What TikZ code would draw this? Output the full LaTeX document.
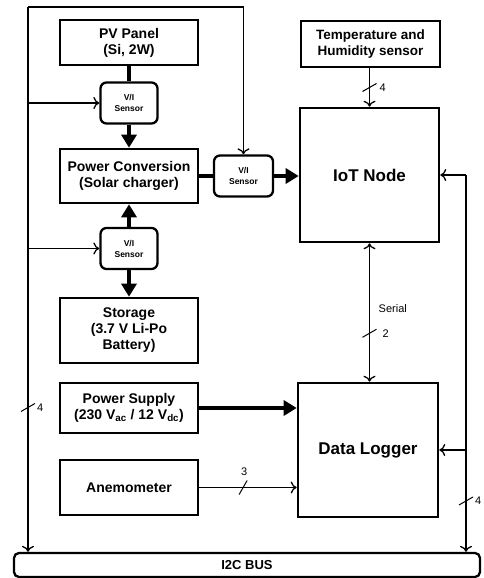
\documentclass[tikz,border=0pt]{standalone}
\usepackage{fontspec}
\setsansfont{Liberation Sans}
\usetikzlibrary{arrows.meta,positioning,calc}

% short slash across a bus line
\newcommand{\vbusmark}[1]{\draw[line width=1pt] (#1) ++(-7,4) -- ++(14,-8);}
\newcommand{\hbusmark}[1]{\draw[line width=1pt] (#1) ++(-4,7) -- ++(8,-14);}

\begin{document}
\begin{tikzpicture}[x=1pt,y=-1pt,
  block/.style={draw,line width=2.6pt,minimum width=138pt,inner sep=1pt,align=center,
    font=\sffamily\bfseries\fontsize{14}{16}\selectfont},
  sensor/.style={draw,line width=2.3pt,rounded corners=6pt,minimum width=57pt,minimum height=41pt,
    inner sep=1pt,align=center,font=\sffamily\bfseries\fontsize{8.5}{11}\selectfont},
  big node/.style={draw,line width=2.6pt,minimum width=139pt,minimum height=134pt,
    font=\sffamily\bfseries\fontsize{17}{19}\selectfont},
  power/.style={line width=4pt,-{Triangle[width=15pt,length=13pt]}},
  signal/.style={line width=1.3pt,-{To[length=6pt,width=12pt]}},
  bus label/.style={font=\sffamily\fontsize{11}{13}\selectfont,inner sep=1pt}]

  \useasboundingbox (0,0) rectangle (483,578);

  % left column
  \node[block,minimum height=45pt] (pv) at (129,42.5) {PV Panel\\(Si, 2W)};
  \node[sensor] (vi1) at (129,103) {V/I\\Sensor};
  \node[block,minimum height=54pt] (conv) at (129,176) {Power Conversion\\(Solar charger)};
  \node[sensor] (vi3) at (129,248.5) {V/I\\Sensor};
  \node[block,minimum height=65pt] (store) at (129,330.5) {Storage\\(3.7 V Li-Po\\Battery)};
  \node[block,minimum height=50pt] (supply) at (129,408) {Power Supply\\(230 V\textsubscript{ac} / 12 V\textsubscript{dc})};
  \node[block,minimum height=55pt] (anemo) at (129,487.5) {Anemometer};

  % right column
  \node[sensor,minimum width=59pt] (vi2) at (243.5,176) {V/I\\Sensor};
  \node[big node] (iot) at (369.5,175) {IoT Node};
  \node[block,minimum width=139pt,minimum height=46pt,font=\sffamily\bfseries\fontsize{13.5}{16}\selectfont]
    (temp) at (370.5,44) {Temperature and\\Humidity sensor};
  \node[big node,minimum width=140pt] (logger) at (368,450) {Data Logger};

  \node[draw,line width=2.3pt,rounded corners=5pt,minimum width=466pt,minimum height=24pt,
    font=\sffamily\bfseries\fontsize{13}{15}\selectfont] (i2c) at (247,565) {I2C BUS};

  \coordinate (tl) at (28,7);
  \coordinate (rc) at (466,175);

  % power paths
  \draw[line width=4pt] (pv) -- (vi1);
  \draw[power] (vi1) -- (conv);
  \draw[line width=4pt] (conv) -- (vi2);
  \draw[power] (vi2) -- (vi2 -| iot.west);
  \draw[power] (vi3) -- (conv);
  \draw[power] (vi3) -- (store);
  \draw[power] (supply) -- (supply -| logger.west);

  % I2C lines
  \draw[signal] (tl) -- (tl -| vi2) -- (vi2.north);
  \draw[signal] (tl) -- (tl |- i2c.north) coordinate[pos=0.735] (m1);
  \vbusmark{m1}
  \node[bus label,anchor=west] at ($(m1)+(8,0)$) {4};
  \draw[signal] (tl |- vi1) -- (vi1);
  \draw[signal] (tl |- vi3) -- (vi3);

  \draw[signal] (rc) -- (iot.east);
  \draw[signal] (rc) -- (rc |- i2c.north) coordinate[pos=0.865] (m2);
  \vbusmark{m2}
  \node[bus label,anchor=west] at ($(m2)+(8,0)$) {4};
  \draw[signal] (rc |- logger) -- (logger.east);

  % sensor and serial lines
  \draw[signal] (temp.south -| iot.north) -- (iot.north) coordinate[pos=0.5] (m3);
  \vbusmark{m3}
  \node[bus label,anchor=west] at ($(m3)+(9,0)$) {4};

  \draw[signal,{To[length=6pt,width=12pt]}-{To[length=6pt,width=12pt]}] (iot.south) -- (iot.south |- logger.north)
    coordinate[pos=0.65] (m4);
  \vbusmark{m4}
  \node[bus label,anchor=west] at ($(m4)+(12,0)$) {2};
  \node[bus label,anchor=west] at ($(m4)+(8,-25)$) {Serial};

  \draw[signal] (anemo) -- (anemo -| logger.west) coordinate[pos=0.45] (m5);
  \hbusmark{m5}
  \node[bus label] at ($(m5)+(1,-16)$) {3};
\end{tikzpicture}
\end{document}
